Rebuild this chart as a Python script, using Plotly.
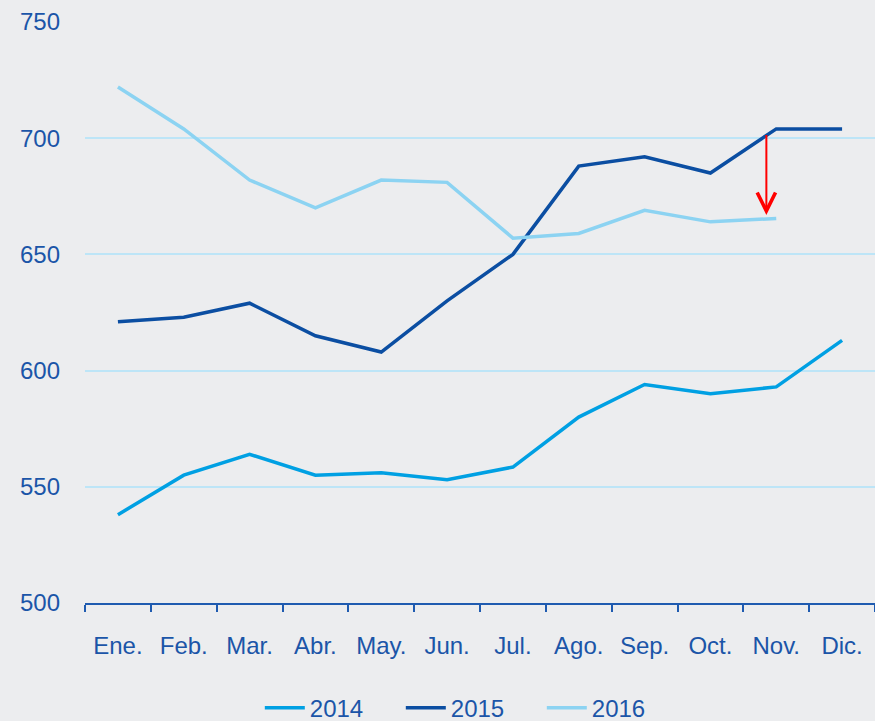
import plotly.graph_objs as go

meses = ['Ene.', 'Feb.', 'Mar.', 'Abr.', 'May.', 'Jun.', 'Jul.', 'Ago.', 'Sep.', 'Oct.', 'Nov.', 'Dic.']

serie_2014 = [538, 555, 564, 555, 556, 553, 558.5, 580, 594, 590, 593, 613]
serie_2015 = [621, 623, 629, 615, 608, 630, 650, 688, 692, 685, 704, 704]
serie_2016 = [722, 704, 682, 670, 682, 681, 657, 659, 669, 664, 665.5]

# arrow Nov 2015 -> Nov 2016
flecha_desde = 702
flecha_hasta = 667

texto = '#1B55A8'
fondo = '#ECEDEF'

fig = go.Figure()

fig.add_trace(go.Scatter(x=meses, y=serie_2014, name='2014', mode='lines',
                         line=dict(color='#00A0E3', width=3.5)))
fig.add_trace(go.Scatter(x=meses, y=serie_2015, name='2015', mode='lines',
                         line=dict(color='#0B4EA2', width=3.5)))
fig.add_trace(go.Scatter(x=meses[:len(serie_2016)], y=serie_2016, name='2016', mode='lines',
                         line=dict(color='#8CD3F2', width=3.5)))

fig.add_annotation(x=9.85, y=flecha_hasta, ax=9.85, ay=flecha_desde,
                   xref='x', yref='y', axref='x', ayref='y',
                   text='', showarrow=True, arrowhead=5, arrowsize=1.8,
                   arrowwidth=2, arrowcolor='#FF0000')

fig.update_layout(
    width=875, height=721,
    paper_bgcolor=fondo, plot_bgcolor=fondo,
    margin=dict(l=85, r=0, t=22, b=118, autoexpand=False),
    font=dict(family='Liberation Sans, Arial, sans-serif', size=24, color=texto),
    showlegend=True,
    legend=dict(orientation='h', x=0.489, xanchor='center', y=-0.181, yanchor='middle',
                font=dict(size=24, color=texto), bgcolor='rgba(0,0,0,0)',
                itemwidth=40, entrywidth=86, tracegroupgap=0),
    xaxis=dict(type='category', range=[-0.5, 11.5], showgrid=False,
               showline=True, linecolor='#1F5BB0', linewidth=2,
               ticks='outside', tickson='boundaries', ticklen=7, tickwidth=2,
               tickcolor='#1F5BB0', ticklabelstandoff=20, zeroline=False,
               automargin=False),
    yaxis=dict(range=[500, 750], tickvals=[500, 550, 600, 650, 700, 750],
               showgrid=True, gridcolor='#BDE5F7', gridwidth=2,
               showline=False, zeroline=False, ticklabelstandoff=24,
               automargin=False),
)

fig.write_html("out.html", config={'displayModeBar': False},
               post_script="document.body.style.margin='0';document.body.style.overflow='hidden';")
